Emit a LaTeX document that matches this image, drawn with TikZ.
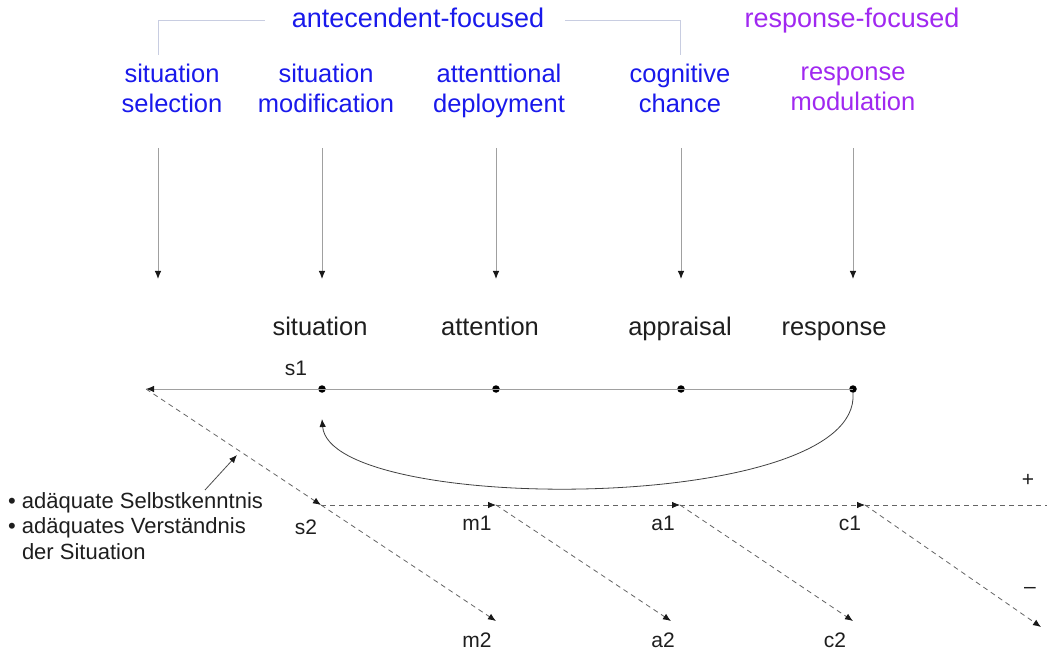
\documentclass[tikz,border=0pt]{standalone}
\usepackage{fontspec}
\setmainfont{Liberation Sans}
\usetikzlibrary{arrows.meta}
\definecolor{tblue}{RGB}{25,25,235}
\definecolor{tviolet}{RGB}{160,40,240}
\definecolor{bracketc}{RGB}{200,205,225}
\definecolor{linec}{RGB}{160,160,160}
\definecolor{dashc}{RGB}{100,100,100}
\definecolor{txtc}{RGB}{30,30,30}
\tikzset{
  strat/.style={text=tblue, font=\fontsize{25.5}{30}\selectfont, anchor=base, inner sep=0pt},
  stage/.style={text=txtc, font=\fontsize{25.5}{30}\selectfont, anchor=base, inner sep=0pt},
  lbl/.style={text=txtc, font=\fontsize{21}{25}\selectfont, inner sep=0pt},
  tip/.style={-{Latex[length=8pt,width=6.5pt,color=black!90]}},
  varrow/.style={draw=linec, line width=0.9pt, tip},
  dasharr/.style={draw=dashc, line width=0.8pt, dash pattern=on 5pt off 4pt},
  dot/.style={circle, fill=black, inner sep=0pt, minimum size=7.5pt}
}
\begin{document}
\begin{tikzpicture}[x=1pt,y=-1pt]
\useasboundingbox (0,0) rectangle (1047,652);
% headings
\node[strat, font=\fontsize{27}{30}\selectfont] (ante) at (418,28) {antecendent-focused};
\node[strat, text=tviolet, font=\fontsize{27}{30}\selectfont] (resp) at (852,28) {response-focused};
\coordinate (bl) at (158,55);
\coordinate (br) at (680,55);
\coordinate (bla) at (265,20);
\coordinate (bra) at (565,20);
\draw[bracketc, line width=0.9pt] (bl) |- (bla);
\draw[bracketc, line width=0.9pt] (bra) -| (br);
% strategies
\node[strat] (ss) at (172,83) {situation};
\node[strat] (ss2) at (172,113) {selection};
\node[strat] (sm) at (326,83) {situation};
\node[strat] (sm2) at (326,113) {modification};
\node[strat] (ad) at (499,83) {attenttional};
\node[strat] (ad2) at (499,113) {deployment};
\node[strat] (cc) at (680,83) {cognitive};
\node[strat] (cc2) at (680,113) {chance};
\node[strat, text=tviolet] (rm) at (853,81) {response};
\node[strat, text=tviolet] (rm2) at (853,111) {modulation};
% vertical arrows
\foreach \n/\x in {a/158,b/322,c/496,d/681,e/853}{
  \coordinate (t\n) at (\x,148);
  \coordinate (h\n) at (\x,279);
  \draw[varrow] (t\n) -- (h\n);
}
% stages
\node[stage] (sit) at (320,336) {situation};
\node[stage] (att) at (490,336) {attention};
\node[stage] (app) at (680,336) {appraisal};
\node[stage] (res) at (834,336) {response};
% main line
\coordinate (start) at (146,389);
\node[dot] (d1) at (322,389) {};
\node[dot] (d2) at (496,389) {};
\node[dot] (d3) at (681,389) {};
\node[dot] (d4) at (853,389) {};
\draw[linec, line width=0.9pt, tip] (d1.center) -- (start);
\draw[linec, line width=0.9pt] (d1.center) -- (d4.center);
\node[lbl] (s1) at (296,368) {s1};
% feedback curve
\coordinate (fb) at (322,419);
\draw[black!75, line width=0.8pt, tip] (d4.south) .. controls (862,515) and (330,515) .. (fb);
% lower tree
\coordinate (js2) at (321,505);
\coordinate (jm1) at (496,505);
\coordinate (ja1) at (680,505);
\coordinate (jc1) at (865,505);
\coordinate (jm2) at (496,621);
\coordinate (ja2) at (671,621);
\coordinate (jc2) at (853,621);
\coordinate (jend) at (1041,627);
\coordinate (hend) at (1047,505);
\draw[dasharr, tip] (start) -- (js2);
\draw[dasharr, tip] (js2) -- (jm1);
\draw[dasharr, tip] (jm1) -- (ja1);
\draw[dasharr, tip] (ja1) -- (jc1);
\draw[dasharr] (jc1) -- (hend);
\draw[dasharr, tip] (js2) -- (jm2);
\draw[dasharr, tip] (jm1) -- (ja2);
\draw[dasharr, tip] (ja1) -- (jc2);
\draw[dasharr, tip] (jc1) -- (jend);
\node[lbl] (s2) at (306,527) {s2};
\node[lbl] (m1) at (477,523) {m1};
\node[lbl] (a1) at (663,523) {a1};
\node[lbl] (c1) at (850,523) {c1};
\node[lbl] (m2) at (477,640) {m2};
\node[lbl] (a2) at (663,640) {a2};
\node[lbl] (c2) at (835,640) {c2};
\node[lbl] (plus) at (1028,480) {+};
\node[lbl] (minus) at (1030,590) {–};
% annotation
\node[text=txtc, font=\fontsize{22}{25.5}\selectfont, align=left, anchor=north west, inner sep=0pt] (note) at (8,492)
  {\textbullet\ adäquate Selbstkenntnis\\\textbullet\ adäquates Verständnis\\\phantom{\textbullet\ }der Situation};
\coordinate (na) at (205,490);
\coordinate (nb) at (237,455);
\draw[black!70, line width=0.8pt, tip] (na) -- (nb);
\end{tikzpicture}
\end{document}
